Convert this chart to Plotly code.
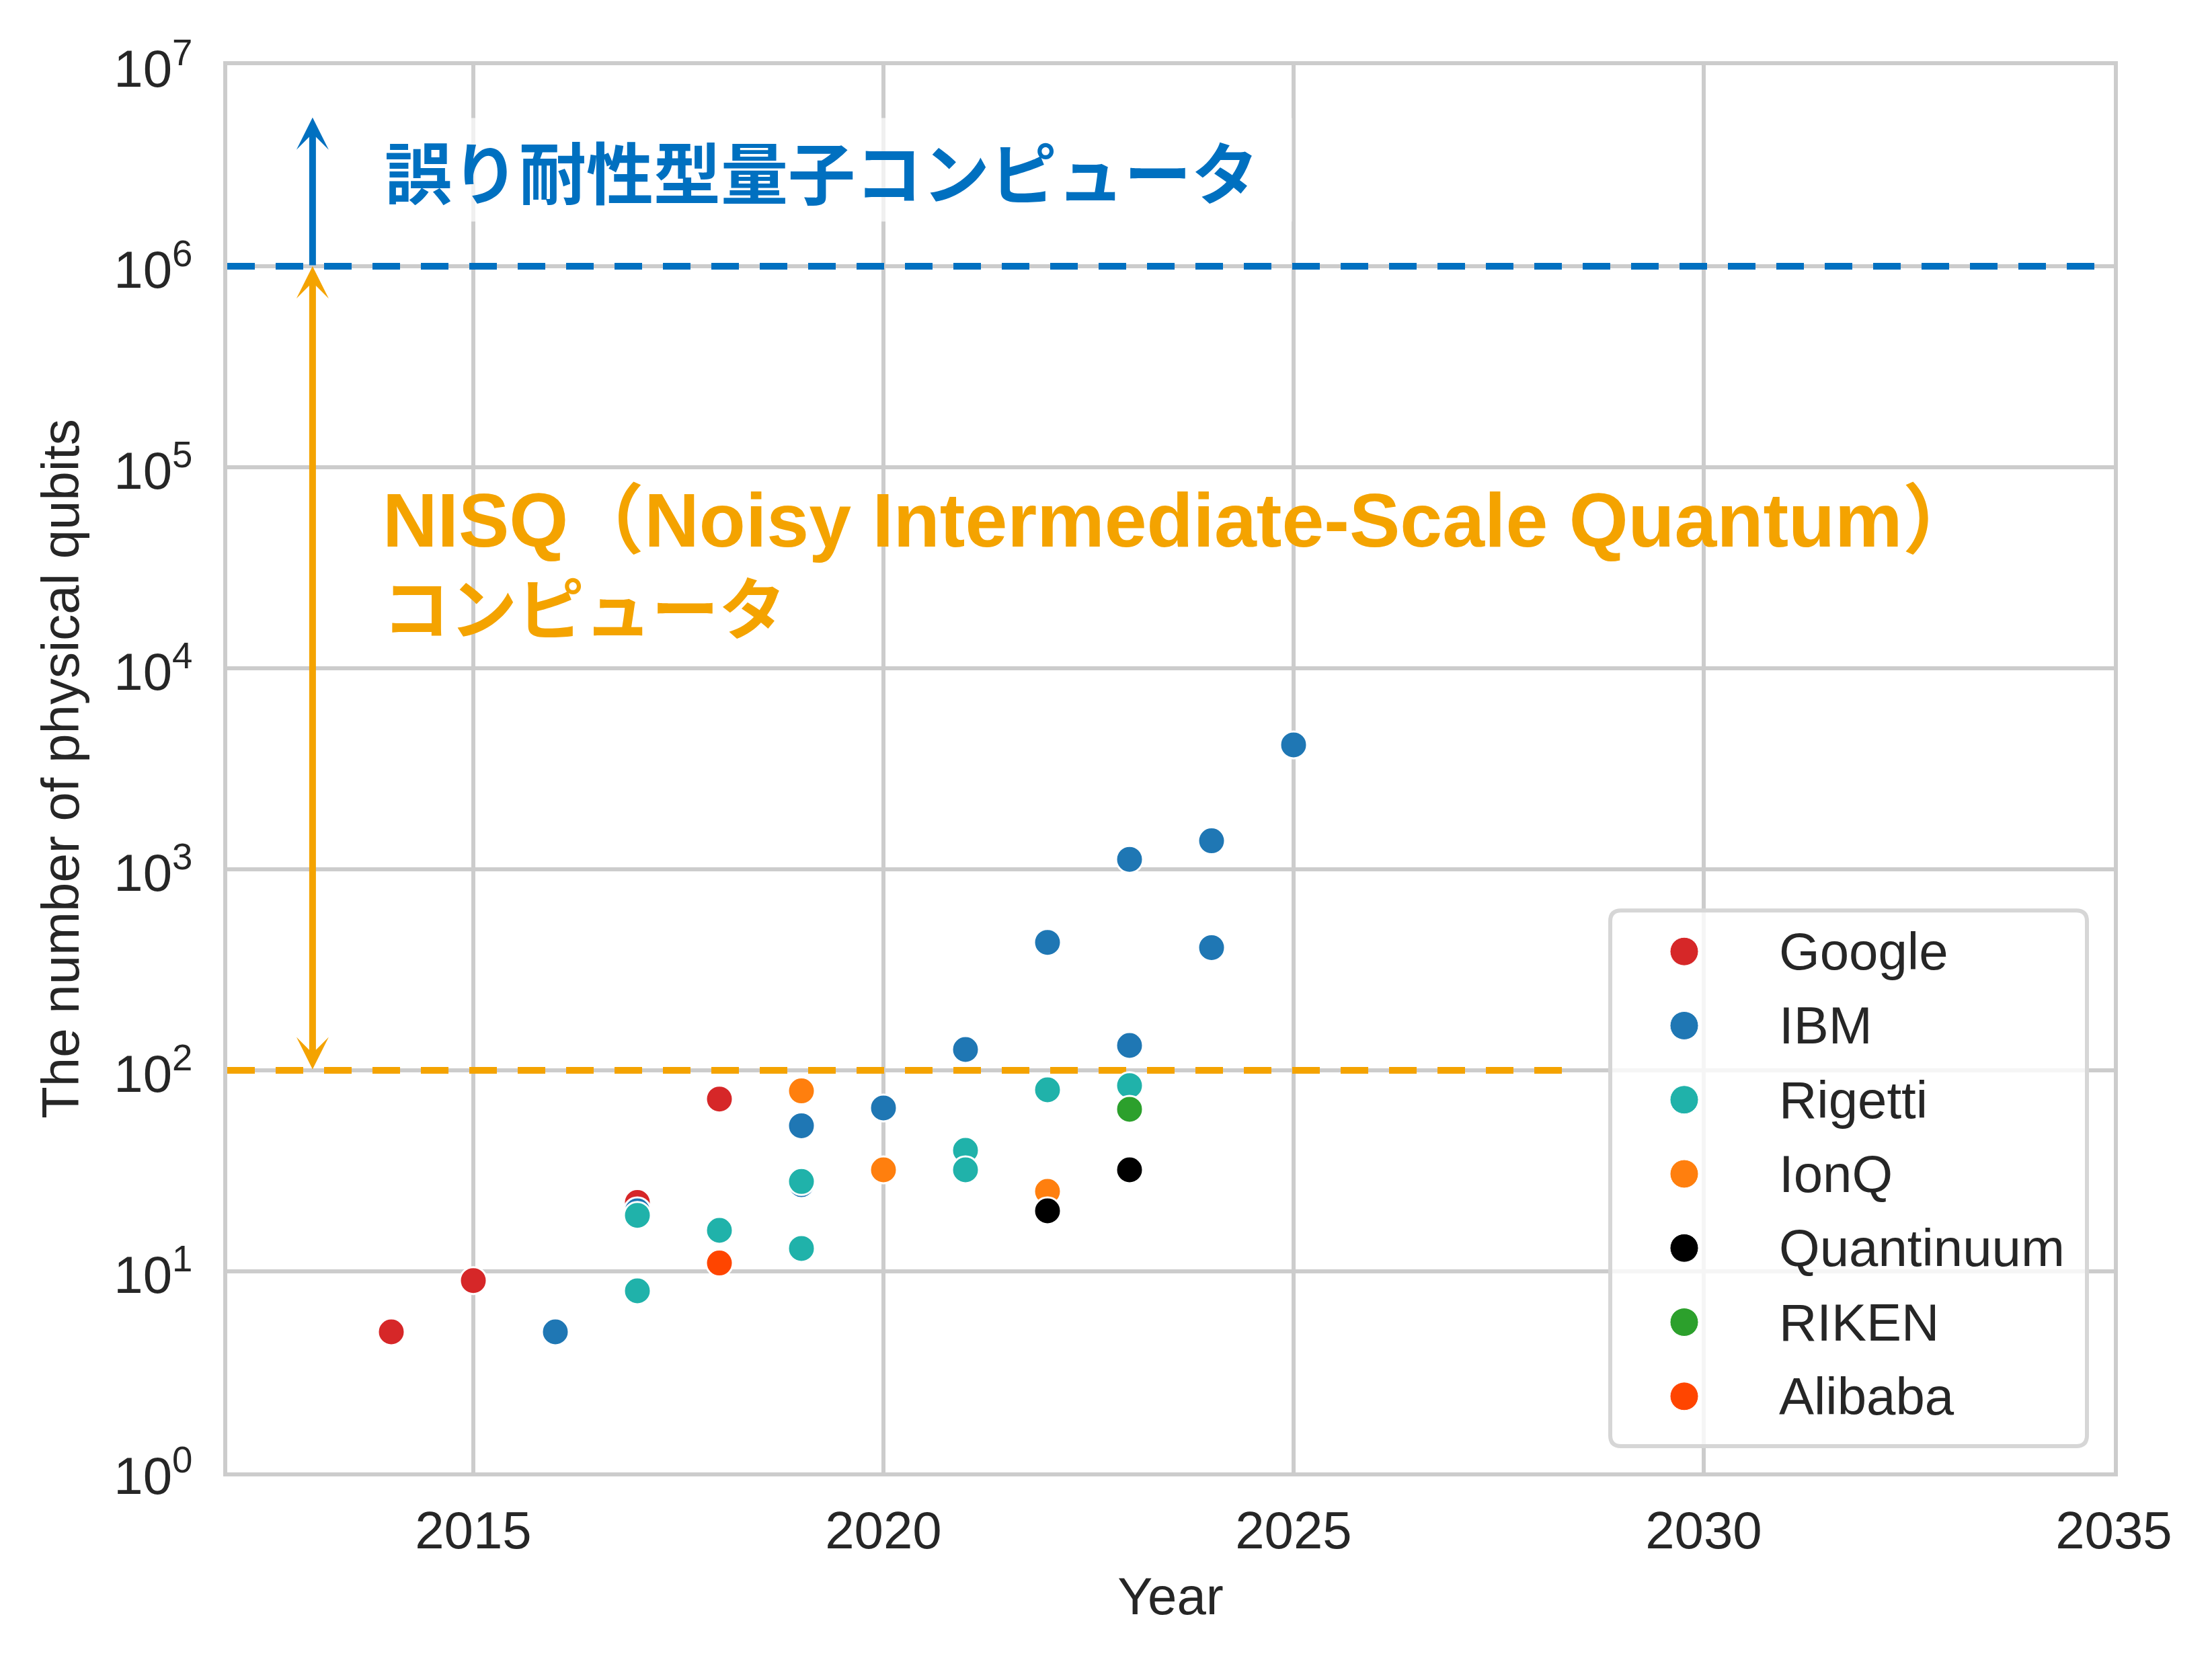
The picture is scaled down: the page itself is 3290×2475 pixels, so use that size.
import math
import plotly.graph_objects as go

# ---------------- data ----------------
companies = ["Google", "IBM", "Rigetti", "IonQ", "Quantinuum", "RIKEN", "Alibaba"]
colors = ["#d62728", "#1f77b4", "#20b2aa", "#ff7f0e", "#000000", "#2ca02c", "#ff4500"]

google_years = [2014, 2015, 2017, 2018]
google_qubits = [5, 9, 22, 72]

ibm_years = [2016, 2017, 2019, 2019, 2020, 2021, 2022, 2023, 2023, 2024, 2024, 2025]
ibm_qubits = [5, 20, 53, 27, 65, 127, 433, 1121, 133, 1386, 408, 4158]

rigetti_years = [2017, 2017, 2018, 2019, 2019, 2021, 2021, 2022, 2023]
rigetti_qubits = [8, 19, 16, 28, 13, 40, 32, 80, 84]

ionq_years = [2019, 2020, 2022]
ionq_qubits = [79, 32, 25]

quantinuum_years = [2022, 2023]
quantinuum_qubits = [20, 32]

riken_years = [2023]
riken_qubits = [64]

alibaba_years = [2018]
alibaba_qubits = [11]

series = [
    (google_years, google_qubits),
    (ibm_years, ibm_qubits),
    (rigetti_years, rigetti_qubits),
    (ionq_years, ionq_qubits),
    (quantinuum_years, quantinuum_qubits),
    (riken_years, riken_qubits),
    (alibaba_years, alibaba_qubits),
]

ftqc_threshold = 1e6
nisq_threshold = 1e2
arrow_year = 2013.04
arrow_top = 5.5e6
text_year = 2013.88

x_ticks = [2015, 2020, 2025, 2030, 2035]
y_ticks = [10 ** k for k in range(0, 8)]
y_ticktext = [f"10<sup>{k}</sup>" for k in range(0, 8)]

ftqc_label = "誤り耐性型量子コンピュータ"
nisq_label1 = "NISQ（Noisy Intermediate-Scale Quantum）"
nisq_label2 = "コンピュータ"

BLUE = "#0070c0"
ORANGE = "#f4a300"
GRID = "#cccccc"
TXT = "#262626"
LATIN = "Arial, Liberation Sans, sans-serif"
CJK = "Noto Sans CJK JP"

# page offset of the figure div (default body margin)
OFF = 8

fig = go.Figure()

# threshold lines
fig.add_trace(go.Scatter(x=[2012, 2035], y=[ftqc_threshold] * 2, mode="lines",
                         line=dict(color=BLUE, width=10, dash="41px,31px"),
                         showlegend=False, hoverinfo="skip"))
fig.add_trace(go.Scatter(x=[2012, 2028.5], y=[nisq_threshold] * 2, mode="lines",
                         line=dict(color=ORANGE, width=10, dash="41px,31px"),
                         showlegend=False, hoverinfo="skip"))

for name, col, (xs, ys) in zip(companies, colors, series):
    fig.add_trace(go.Scatter(
        x=xs, y=ys, mode="markers", name=name,
        marker=dict(size=40, color=col, line=dict(color="white", width=3)),
        showlegend=False,
    ))

annotations = []
# arrows
annotations.append(dict(x=arrow_year, y=math.log10(arrow_top), ax=arrow_year, ay=math.log10(ftqc_threshold),
                        xref="x", yref="y", axref="x", ayref="y", text="", showarrow=True,
                        arrowhead=3, arrowsize=0.8, arrowwidth=10, arrowcolor=BLUE, standoff=0))
annotations.append(dict(x=arrow_year, y=math.log10(ftqc_threshold), ax=arrow_year, ay=math.log10(nisq_threshold),
                        xref="x", yref="y", axref="x", ayref="y", text="", showarrow=True,
                        arrowhead=3, arrowsize=0.8, arrowwidth=10, arrowcolor=ORANGE,
                        arrowside="end+start", startarrowhead=3, startarrowsize=0.8,
                        standoff=0, startstandoff=0))
# texts
annotations.append(dict(x=text_year, y=6.48, xref="x", yref="y", xanchor="left", yanchor="middle",
                        text=ftqc_label + "&nbsp;&nbsp;", showarrow=False,
                        font=dict(family=CJK, size=100, color=BLUE, weight="bold"),
                        bgcolor="rgba(255,255,255,0.7)", borderpad=4))
nisq_text = (f'<span style="font-family:Liberation Sans,Arial,Noto Sans CJK JP;font-size:113px">'
             f'{nisq_label1}</span><br>{nisq_label2}')
annotations.append(dict(x=text_year, y=4.51, xref="x", yref="y", xanchor="left", yanchor="middle",
                        align="left", text=nisq_text, showarrow=False,
                        font=dict(family=CJK, size=100, color=ORANGE, weight="bold")))

# custom legend (large markers) -- pixel positions measured on the page
PL, PR, PT, PB = 338, 3144, 96.5, 2190
pw, ph = PR - PL, PB - PT
def px2paper_x(v):
    return (v - PL) / pw
def px2paper_y(v):
    return (PB - v) / ph

lx0, lx1, ly0, ly1 = px2paper_x(2395), px2paper_x(3104), px2paper_y(2151), px2paper_y(1354)
rx, ry = 16 / pw, 16 / ph
path = (f"M{lx0 + rx},{ly0} L{lx1 - rx},{ly0} Q{lx1},{ly0} {lx1},{ly0 + ry} "
        f"L{lx1},{ly1 - ry} Q{lx1},{ly1} {lx1 - rx},{ly1} "
        f"L{lx0 + rx},{ly1} Q{lx0},{ly1} {lx0},{ly1 - ry} "
        f"L{lx0},{ly0 + ry} Q{lx0},{ly0} {lx0 + rx},{ly0} Z")
shapes = [dict(type="path", path=path, xref="paper", yref="paper", layer="above",
               fillcolor="rgba(255,255,255,0.8)", line=dict(color="#d6d6d6", width=6))]
for i, (name, col) in enumerate(zip(companies, colors)):
    yc = px2paper_y(1415 + 110.3 * i)
    shapes.append(dict(type="circle", xref="paper", yref="paper", layer="above",
                       xsizemode="pixel", ysizemode="pixel",
                       xanchor=px2paper_x(2505), yanchor=yc,
                       x0=-21, x1=21, y0=-21, y1=21,
                       fillcolor=col, line=dict(color="white", width=1)))
    annotations.append(dict(x=px2paper_x(2644), y=yc, xref="paper", yref="paper",
                            xanchor="left", yanchor="middle", text=name, showarrow=False,
                            font=dict(family=LATIN, size=78, color=TXT)))

fig.update_layout(
    width=3290, height=2475,
    margin=dict(l=PL - OFF, r=3290 - PR + OFF, t=PT - OFF, b=2475 - PB + OFF),
    paper_bgcolor="white", plot_bgcolor="white",
    showlegend=False,
    annotations=annotations,
    shapes=shapes,
    font=dict(family=LATIN, size=78, color=TXT),
    xaxis=dict(range=[2012, 2035], tickvals=x_ticks, showgrid=True, gridcolor=GRID, gridwidth=6,
               showline=True, mirror=True, linecolor=GRID, linewidth=6, zeroline=False,
               ticks="", ticklabelstandoff=13,
               tickfont=dict(family=LATIN, size=78, color=TXT),
               title=dict(text="Year", font=dict(family=LATIN, size=78, color=TXT), standoff=30)),
    yaxis=dict(type="log", range=[0, 7], tickvals=y_ticks, ticktext=y_ticktext,
               showgrid=True, gridcolor=GRID, gridwidth=6,
               showline=True, mirror=True, linecolor=GRID, linewidth=6, zeroline=False,
               ticks="", ticklabelstandoff=30, ticklabelshift=5,
               tickfont=dict(family=LATIN, size=78, color=TXT),
               title=dict(text="The number of physical qubits",
                          font=dict(family=LATIN, size=78, color=TXT), standoff=28)),
)

fig.write_html("out.html")
